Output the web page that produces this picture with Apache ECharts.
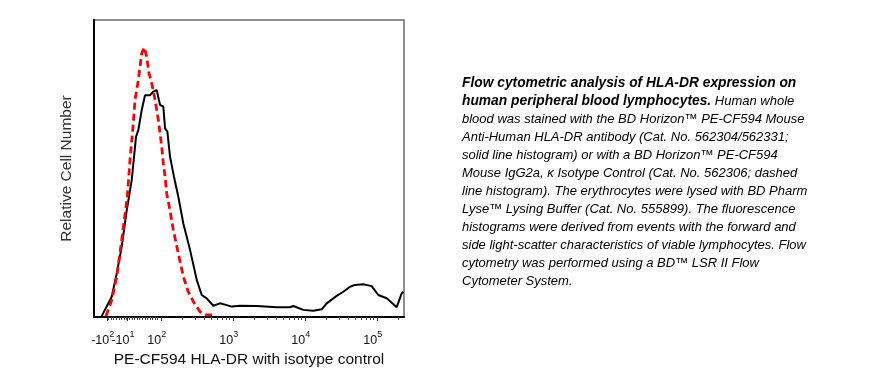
<!DOCTYPE html>
<html><head><meta charset="utf-8">
<script src="https://cdn.jsdelivr.net/npm/echarts@6/dist/echarts.min.js"></script>
<style>html,body{margin:0;padding:0;background:#fff}#c{width:896px;height:392px}</style>
</head><body><div id="c"></div>
<script>
// x values are in display "decade" units of the biexponential axis (10^2 -> 2, 10^3 -> 3, ...)
const solidX = [1.176,1.315,1.385,1.454,1.524,1.593,1.653,1.685,1.732,1.778,1.847,1.893,1.94,1.963,1.986,2.032,2.056,2.088,2.125,2.18,2.24,2.31,2.403,2.496,2.565,2.635,2.726,2.819,2.912,2.982,3.097,3.329,3.607,3.79,3.838,3.976,4.115,4.232,4.301,4.44,4.532,4.625,4.694,4.81,4.926,5.018,5.135,5.274,5.296,5.343,5.365];
const solidY = [0.3,6.8,14.7,23.7,36,46.1,60.7,63,69.7,74.7,74.7,75.9,76.4,75.9,71.4,70.8,63.5,62.4,54,47.2,40.5,31.5,22.6,12.5,7.4,6.3,3.8,4.6,4.0,3.5,3.8,3.7,3.3,3.3,3.7,2.4,2.1,2.6,4.6,7.1,8.5,10.2,10.8,11,10.4,7.4,6.3,3.3,2.9,8.0,8.5];
const dashedX = [1.236,1.315,1.385,1.454,1.532,1.569,1.607,1.639,1.685,1.732,1.768,1.801,1.833,1.871,1.917,1.963,2.01,2.032,2.056,2.079,2.115,2.171,2.24,2.31,2.379,2.449,2.542,2.635,2.75];
const dashedY = [0.3,5.7,13.6,25.9,40.5,52.9,63,73.1,79.8,88.8,90.8,87.6,82,78.7,73.1,66.3,57.3,51.8,47.2,41.6,37.1,29.3,21.4,13.6,8.5,5.2,1.8,0.7,0.7];
const tickValues = [1.25,1.53,2,3,4,5];
const tickLabels = ['-10|2','-10|1','10|2','10|3','10|4','10|5'];
const xName = 'PE-CF594 HLA-DR with isotype control';
const yName = 'Relative Cell Number';
const captionLines = [
  '{b|Flow cytometric analysis of HLA-DR expression on}',
  '{b|human peripheral blood lymphocytes.} Human whole',
  'blood was stained with the BD Horizon™ PE-CF594 Mouse',
  'Anti-Human HLA-DR antibody (Cat. No. 562304/562331;',
  'solid line histogram) or with a BD Horizon™ PE-CF594',
  'Mouse IgG2a, κ Isotype Control (Cat. No. 562306; dashed',
  'line histogram). The erythrocytes were lysed with BD Pharm',
  'Lyse™ Lysing Buffer (Cat. No. 555899). The fluorescence',
  'histograms were derived from events with the forward and',
  'side light-scatter characteristics of viable lymphocytes. Flow',
  'cytometry was performed using a BD™ LSR II Flow',
  'Cytometer System.'
];

const labelShift = 0.06; // labels sit slightly left of their ticks
const labelValues = tickValues.map(t => t - labelShift);
// labels are split over two overlapping axes so the two crowded negative labels are both kept
const labelsA = labelValues.filter((v,i)=>i!==1);
const labelsB = [labelValues[1]];
const minorTicks = [];
for (let v = 1.27; v < 1.99; v += 0.036) minorTicks.push(+v.toFixed(3));
for (const d of [2,3,4,5]) for (let k = 2; k <= 9; k++) { const t = d + Math.log10(k); if (t < 5.37) minorTicks.push(t); }

const zip = (a,b) => a.map((v,i)=>[v,b[i]]);
const chart = echarts.init(document.getElementById('c'), null, {renderer:'canvas'});
const FF = '"Liberation Sans", Arial, sans-serif';
const fmt = (v)=>{ let i=0,b=1e9; labelValues.forEach((t,j)=>{const d=Math.abs(t-v); if(d<b){b=d;i=j;}}); const p=tickLabels[i].split('|'); return '{m|'+p[0]+'}{s|'+p[1]+'}'; };
const rich = {m:{fontSize:12.5, fontFamily:FF, color:'#111', padding:[7,0,0,0]}, s:{fontSize:9, fontFamily:FF, color:'#111', padding:[0,0,5,0]}};
chart.setOption({
  animation:false,
  backgroundColor:'#fff',
  grid:{left:94, top:20, width:310, height:297, show:true, borderColor:'#6a6a6a', borderWidth:1.5, backgroundColor:'transparent'},
  xAxis:[{
    type:'value', min:1.069, max:5.375,
    axisLine:{show:true, onZero:false, lineStyle:{color:'#000', width:2}},
    axisTick:{show:true, customValues:tickValues, length:4, lineStyle:{color:'#333', width:1}},
    axisLabel:{show:true, customValues:labelsA, margin:10, showMinLabel:true, showMaxLabel:true, hideOverlap:false, formatter:fmt, rich:rich},
    splitLine:{show:false},
    name:xName, nameLocation:'middle', nameGap:28,
    nameTextStyle:{fontSize:15.5, fontFamily:FF, color:'#111'}
  },{
    type:'value', min:1.069, max:5.375, position:'bottom',
    axisLine:{show:false}, splitLine:{show:false},
    axisLabel:{show:true, customValues:labelsB, margin:10, showMinLabel:true, showMaxLabel:true, formatter:fmt, rich:rich},
    axisTick:{show:true, customValues:minorTicks, length:3, lineStyle:{color:'#444', width:1}}
  }],
  yAxis:{type:'value', min:0, max:100,
    axisLine:{show:true, lineStyle:{color:'#000', width:2}},
    axisTick:{show:false}, axisLabel:{show:false}, splitLine:{show:false},
    name:yName, nameLocation:'middle', nameGap:19,
    nameTextStyle:{fontSize:15.5, fontFamily:FF, color:'#333'}
  },
  series:[
    {type:'line', xAxisIndex:0, data:zip(solidX,solidY), showSymbol:false, lineStyle:{color:'#000', width:2}, z:2},
    {type:'line', xAxisIndex:0, data:zip(dashedX,dashedY), showSymbol:false, lineStyle:{color:'#ff0000', width:2.8, type:[7,4]}, z:3}
  ],
  graphic:[{
    type:'text', left:462, top:74,
    style:{text:captionLines.join('\n'), font:'italic 13px '+FF, fill:'#000', lineHeight:18,
      rich:{b:{fontStyle:'italic', fontWeight:'bold', fontSize:13.8, fontFamily:FF, fill:'#000', lineHeight:18}}}
  }]
});
</script></body></html>
